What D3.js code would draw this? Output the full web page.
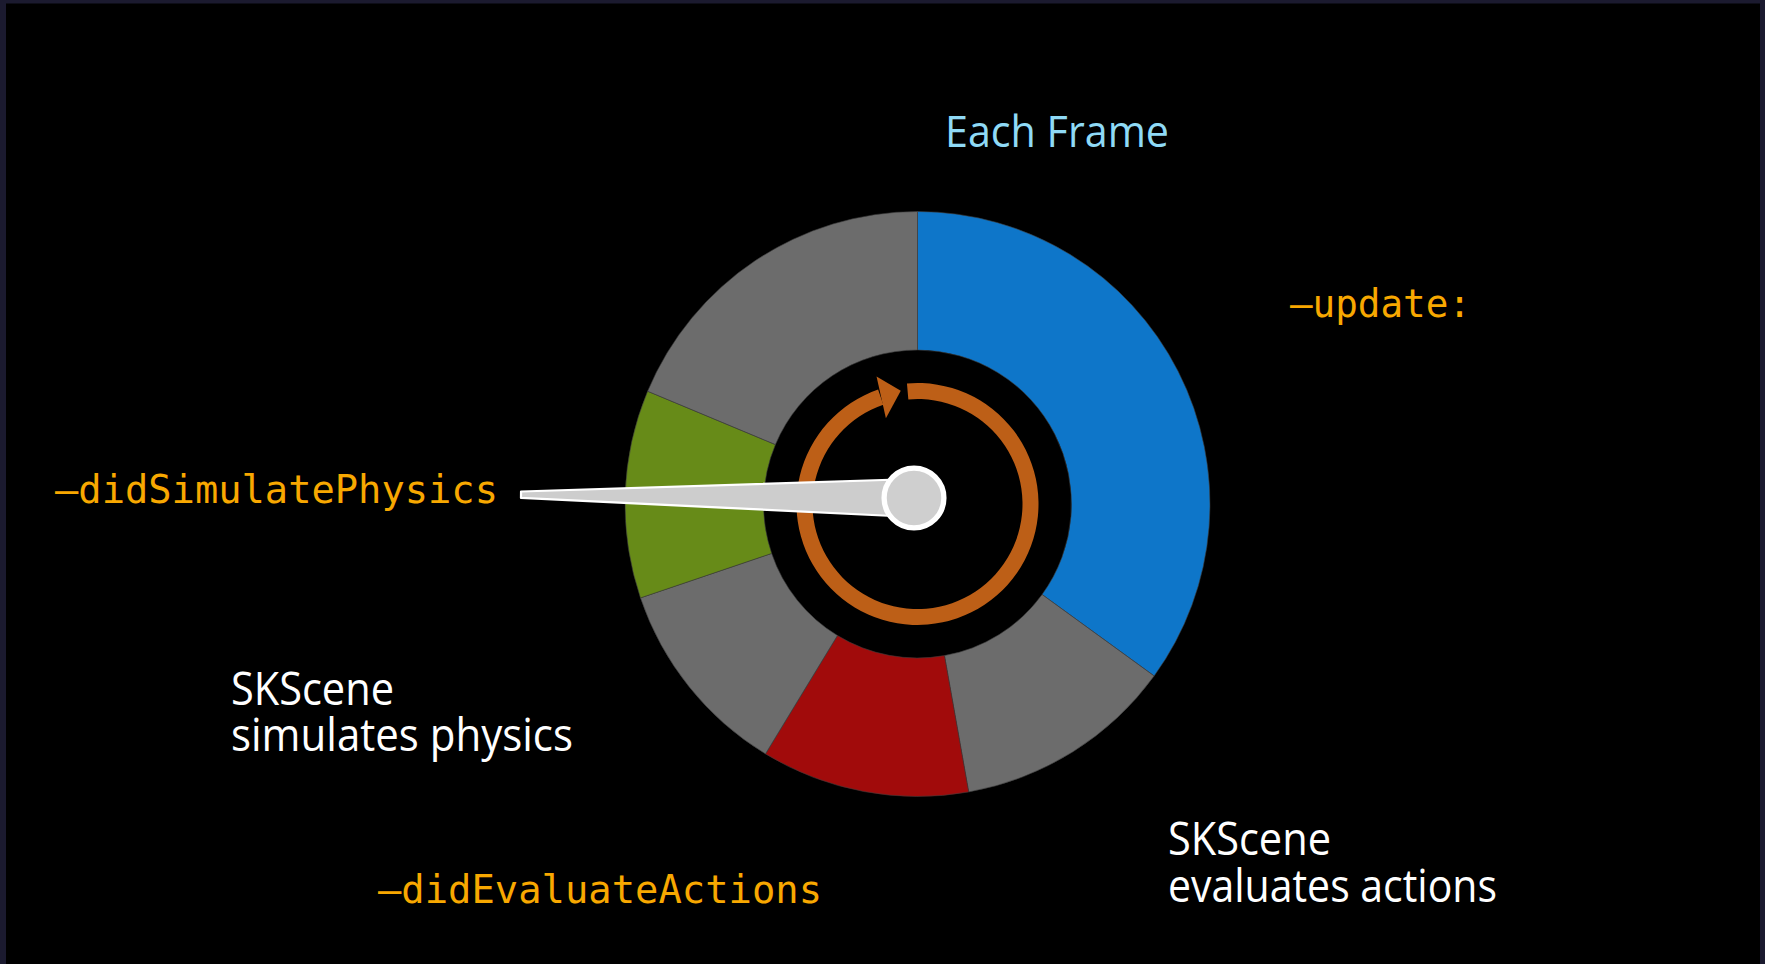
<!DOCTYPE html>
<html>
<head>
<meta charset="utf-8">
<script src="https://cdn.jsdelivr.net/npm/d3@7"></script>
<style>
  html, body { margin: 0; padding: 0; background: #1b1a2f; overflow: hidden; }
  svg { display: block; }
</style>
</head>
<body>
<svg id="chart" width="1765" height="964"></svg>
<script>
// ---- data ----
const phases = ["-update:", "SKScene evaluates actions", "-didEvaluateActions",
                "SKScene simulates physics", "-didSimulatePhysics", "render"];
const shares = [35, 12.2, 11.5, 11.1, 11.5, 18.7];          // percent of the frame
const phaseColors = ["#0e76c9", "#6c6c6c", "#a10b0b", "#6c6c6c", "#678b18", "#6c6c6c"];
const title = "Each Frame";
const codeLabels = ["–update:", "–didSimulatePhysics", "–didEvaluateActions"];
const sceneLabels = [["SKScene", "simulates physics"], ["SKScene", "evaluates actions"]];
const pointerPhase = 4;   // pointer aims at -didSimulatePhysics

// ---- layout ----
const W = 1765, H = 964;
const cx = 917.5, cy = 504;
const outerR = 292.5, innerR = 154;
const svg = d3.select("#chart");

svg.append("rect").attr("x", 6).attr("y", 3.5).attr("width", 1754).attr("height", H - 3.5).attr("fill", "#000");

const g = svg.append("g").attr("transform", `translate(${cx},${cy})`);

const pie = d3.pie().sort(null).value(d => d.v);
const arcs = pie(shares.map((v, i) => ({ v, i, name: phases[i] })));
const arc = d3.arc().innerRadius(innerR).outerRadius(outerR);

g.selectAll("path.seg").data(arcs).join("path")
  .attr("class", "seg")
  .attr("d", arc)
  .attr("fill", d => phaseColors[d.data.i])
  .attr("stroke", "#3c3c3c")
  .attr("stroke-width", 0.6);

// ---- orange loop arrow ----
const deg = Math.PI / 180;
const ringR = 113, ringW = 16;
const ring = d3.arc().innerRadius(ringR - ringW / 2).outerRadius(ringR + ringW / 2)
  .startAngle(-5 * deg).endAngle(341 * deg);
g.append("path").attr("d", ring()).attr("fill", "#bd5f17");

const pol = (r, a) => [r * Math.sin(a * deg), -r * Math.cos(a * deg)];
const head = [pol(134, -17.8), pol(114.5, -8.4), pol(91.5, -20.2)];
g.append("path").attr("d", d3.line()(head) + "Z").attr("fill", "#bd5f17");

// ---- pointer ----
const hub = { x: 914 - cx, y: 498 - cy };
const pa = arcs[pointerPhase];
const angle = (pa.startAngle + pa.endAngle) / 2 - 1.5 * deg;   // direction of pointer
const len = 393;
const ux = Math.sin(angle), uy = -Math.cos(angle);
const px = -uy, py = ux;
const tipHalf = 3.2, baseHalf = 19;
const needle = [
  [hub.x + ux * len + px * tipHalf, hub.y + uy * len + py * tipHalf],
  [hub.x + ux * len - px * tipHalf, hub.y + uy * len - py * tipHalf],
  [hub.x - px * baseHalf, hub.y - py * baseHalf],
  [hub.x + px * baseHalf, hub.y + py * baseHalf]
];
g.append("path").attr("d", d3.line()(needle) + "Z")
  .attr("fill", "#cdcdcd").attr("stroke", "#ffffff").attr("stroke-width", 2.2)
  .attr("stroke-linejoin", "round");
g.append("circle").attr("cx", hub.x).attr("cy", hub.y).attr("r", 29.9)
  .attr("fill", "#cfcfcf").attr("stroke", "#ffffff").attr("stroke-width", 5.3);

// ---- text ----
const sans = "'Open Sans', 'Noto Sans', sans-serif";
const mono = "'DejaVu Sans Mono', monospace";

function fitText(sel, width) {
  const w = sel.node().getComputedTextLength();
  if (w > 0) sel.attr("textLength", width).attr("lengthAdjust", "spacingAndGlyphs");
}

const t = svg.append("text").attr("x", 945).attr("y", 146.5)
  .attr("font-family", sans).attr("font-size", 44).attr("fill", "#8fdaf6").text(title);
fitText(t, 224);

const codePos = [[1290, 316.5, 181], [55, 503, 443], [378, 903, 444]];
codeLabels.forEach((s, i) => {
  const el = svg.append("text").attr("x", codePos[i][0]).attr("y", codePos[i][1])
    .attr("font-family", mono).attr("font-size", 39).attr("fill", "#f8a800").text(s);
  fitText(el, codePos[i][2]);
});

const scenePos = [
  { x: 231, y: [705, 751], w: [163, 342] },
  { x: 1168, y: [855, 901.5], w: [163, 329] }
];
sceneLabels.forEach((lines, i) => {
  const el = svg.append("text")
    .attr("font-family", sans).attr("font-size", 46).attr("fill", "#ffffff");
  lines.forEach((s, j) => {
    const ts = el.append("tspan").attr("x", scenePos[i].x).attr("y", scenePos[i].y[j]).text(s);
    fitText(ts, scenePos[i].w[j]);
  });
});
</script>
</body>
</html>
